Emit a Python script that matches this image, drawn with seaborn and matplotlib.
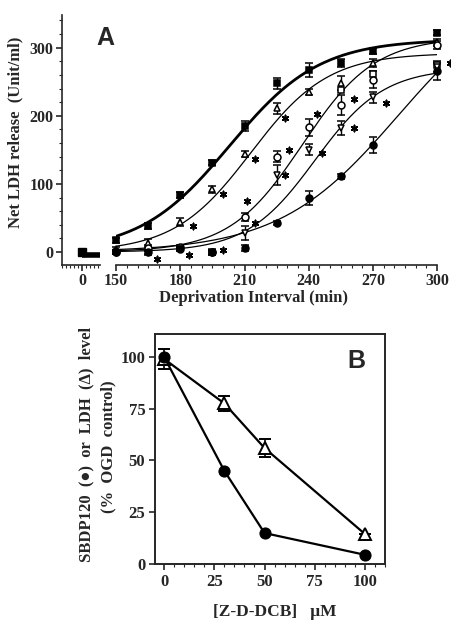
import numpy as np
import pandas as pd
import matplotlib
matplotlib.use("Agg")
import matplotlib.pyplot as plt
from matplotlib.ticker import MultipleLocator
import seaborn as sns

# ---- panel A data (LDH release vs deprivation interval) ----
times = [150, 165, 180, 195, 210, 225, 240, 255, 270, 300]

ctrl = [17, 38, 84, 131, 185, 248, 267, 277, 295, 322]          # filled square
ctrl_err = [4, 4, 4, 4, 8, 8, 10, 6, 4, 4]
tri_up = [5, 13, 44, 92, 144, 211, 235, 248, 278, 308]          # open triangle
tri_up_err = [3, 6, 6, 5, 5, 8, 4, 10, 6, 5]
circ_open = [0, 6, 8, 0, 52, 140, 183, 216, 253, 304]           # open circle
circ_open_err = [3, 4, 3, 4, 6, 8, 12, 15, 12, 6]
tri_down = [0, -2, 5, -2, 28, 113, 150, 182, 227, 272]          # open inverted triangle
tri_down_err = [3, 3, 3, 3, 10, 15, 8, 10, 8, 8]
circ_fill = [0, 0, 5, 0, 6, 42, 79, 111, 157, 265]              # filled circle
circ_fill_err = [3, 3, 3, 3, 5, 3, 10, 4, 12, 12]
sq_open_t = [255, 270, 300]                                      # open square
sq_open = [238, 262, 275]

# sigmoid fits drawn through each series (top, midpoint, slope)
fit_top = [312, 292, 315, 270, 402]
fit_mid = [203, 213, 237, 243, 282]
fit_slope = [21, 18, 17, 16, 28]
fit_lw = [2.0, 0.9, 0.9, 0.9, 0.9]

# time-zero values (left segment of the broken axis)
zero_t = [0]
zero_val = [0]
base_t = [0, 9]
base_val = [-4, -4]

# significance asterisks
sig_t = [169, 184, 186, 200, 200, 211, 215, 215, 229, 229, 231, 244, 246, 261, 261, 276, 306]
sig_val = [-10, -5, 38, 3, 85, 75, 136, 42, 196, 113, 150, 202, 146, 224, 182, 219, 278]

# ---- panel B data ----
dose = [0, 30, 50, 100]
sbdp = [100, 45, 15, 4.5]
ldh = [99, 77.5, 56, 14.5]
ldh_err = [5, 3.5, 4.5, 0]

sns.set_theme(style="ticks")
plt.rcParams["font.family"] = ["Liberation Serif", "DejaVu Serif"]
plt.rcParams["font.weight"] = "bold"
plt.rcParams["axes.linewidth"] = 1.2

fig = plt.figure(figsize=(4.52, 6.22), dpi=100)

ylim_a = (-19, 348)
ax0 = fig.add_axes([0.137, 0.574, 0.084, 0.402])
ax1 = fig.add_axes([0.257, 0.574, 0.710, 0.402])

# left segment
ax0.set_xlim(-10, 9)
ax0.set_ylim(*ylim_a)
ax0.plot(base_t, base_val, color="black", lw=4, solid_capstyle="butt")
ax0.plot(zero_t, zero_val, "s", color="black", ms=5.5)
ax0.set_xticks([0])
ax0.xaxis.set_minor_locator(MultipleLocator(2))
ax0.yaxis.set_major_locator(MultipleLocator(100))
ax0.yaxis.set_minor_locator(MultipleLocator(20))
sns.despine(ax=ax0)

# right segment
ax1.set_xlim(150, 300)
ax1.set_ylim(*ylim_a)
tt = np.linspace(150, 300, 200)
curves = []
for i in range(5):
    curves.append(pd.DataFrame({
        "t": tt,
        "y": fit_top[i] / (1 + np.exp(-(tt - fit_mid[i]) / fit_slope[i])),
        "s": i,
    }))
curve_df = pd.concat(curves)
for i in range(5):
    sns.lineplot(data=curve_df[curve_df.s == i], x="t", y="y", color="black",
                 lw=fit_lw[i], ax=ax1, legend=False)

series = [
    (ctrl, ctrl_err, "s", "black"),
    (tri_up, tri_up_err, "^", "white"),
    (circ_open, circ_open_err, "o", "white"),
    (tri_down, tri_down_err, "v", "white"),
    (circ_fill, circ_fill_err, "o", "black"),
]
for vals, err, mk, fc in series:
    ax1.errorbar(times, vals, yerr=err, fmt=mk, mfc=fc, mec="black", ms=5,
                 mew=1.1, ecolor="black", elinewidth=1, capsize=3, capthick=1,
                 clip_on=False, zorder=3)
ax1.plot(sq_open_t, sq_open, "s", mfc="white", mec="black", ms=5, mew=1.1,
         clip_on=False, zorder=3)
ax1.scatter(sig_t, sig_val, marker=(6, 2, 0), s=20, color="black", lw=1.2,
            clip_on=False, zorder=4)

ax1.set_xticks([150, 180, 210, 240, 270, 300])
ax1.xaxis.set_minor_locator(MultipleLocator(5))
ax1.set_xlabel("")
ax1.set_ylabel("")
ax1.yaxis.set_visible(False)
sns.despine(ax=ax1, left=True)

for ax in (ax0, ax1):
    ax.tick_params(axis="both", which="major", labelsize=11.5, length=4, width=1.2, pad=2)
    ax.tick_params(axis="both", which="minor", length=2, width=0.8)

fig.text(0.033, 0.788, "Net LDH release  (Unit/ml)", rotation=90, ha="center",
         va="center", fontsize=12, fontweight="bold")
fig.text(0.56, 0.521, "Deprivation Interval (min)", ha="center", va="center",
         fontsize=12, fontweight="bold")
fig.text(0.213, 0.927, "A", fontsize=18, fontweight="bold", family="Liberation Sans")

# ---- panel B ----
axb = fig.add_axes([0.343, 0.093, 0.509, 0.370])
dfb = pd.DataFrame({"dose": dose, "SBDP120": sbdp, "LDH": ldh})
sns.lineplot(data=dfb, x="dose", y="LDH", color="black", lw=1.6, marker="^",
             ms=8, mfc="white", mec="black", mew=1.4, ax=axb, clip_on=False, zorder=3)
axb.errorbar(dose, ldh, yerr=ldh_err, fmt="none", ecolor="black", elinewidth=1.2,
             capsize=4, capthick=1.4, zorder=2)
sns.lineplot(data=dfb, x="dose", y="SBDP120", color="black", lw=1.6, marker="o",
             ms=8, mfc="black", mec="black", ax=axb, clip_on=False, zorder=4)
axb.set_xlim(-4.5, 110)
axb.set_ylim(0, 111)
axb.set_xticks([0, 25, 50, 75, 100])
axb.set_yticks([0, 25, 50, 75, 100])
axb.xaxis.set_minor_locator(MultipleLocator(5))
axb.tick_params(axis="both", which="major", labelsize=12, length=4, width=1.2, pad=3)
axb.tick_params(axis="x", which="minor", length=2, width=0.8)
axb.set_xlabel("")
axb.set_ylabel("")
for sp in axb.spines.values():
    sp.set_linewidth(1.4)

fig.text(0.192, 0.286, "SBDP120  (\u25cf)  or  LDH  (\u0394)  level", rotation=90,
         ha="center", va="center", fontsize=12, fontweight="bold")
fig.text(0.239, 0.282, "(%  OGD  control)", rotation=90, ha="center", va="center",
         fontsize=12, fontweight="bold")
fig.text(0.608, 0.016, "[Z-D-DCB]   \u03bcM", ha="center", va="center",
         fontsize=12.5, fontweight="bold")
fig.text(0.768, 0.408, "B", fontsize=18, fontweight="bold", family="Liberation Sans")

fig.savefig("out.png", dpi=100)
